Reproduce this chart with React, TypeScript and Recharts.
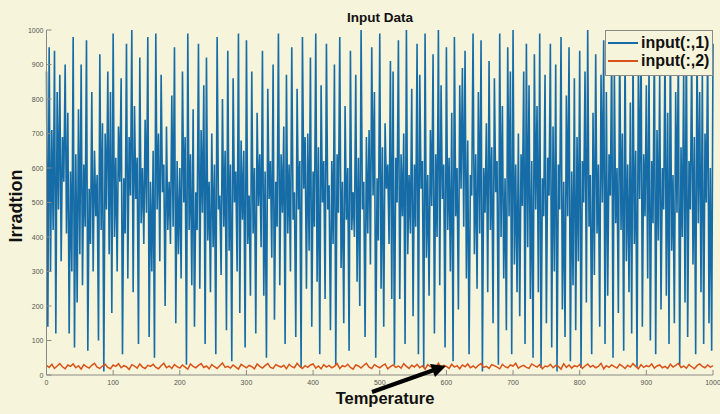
import { LineChart, Line, XAxis, YAxis, Legend } from 'recharts'

// input(:,1) is read at every 2nd sample, input(:,2) at every 4th
const idxIrr: number[] = Array.from({ length: 501 }, (_, i) => i * 2)
const idxTemp: number[] = Array.from({ length: 251 }, (_, i) => i * 4)

// input(:,1) - irradiance
const irradiance: number[] = [
  880, 140, 950, 300, 710, 420, 940, 120, 820, 480, 870, 330, 690, 560, 900, 410, 760, 120, 590, 300,
  980, 80, 640, 210, 770, 350, 900, 260, 610, 430, 970, 70, 540, 380, 820, 300, 650, 460, 580, 100,
  930, 420, 730, 10, 700, 480, 880, 350, 820, 180, 990, 400, 630, 300, 720, 560, 860, 60, 570, 410,
  960, 280, 690, 520, 1000, 240, 780, 510, 630, 90, 920, 440, 600, 380, 740, 470, 980, 110, 560, 300,
  650, 50, 990, 480, 700, 330, 870, 530, 610, 200, 720, 420, 560, 380, 810, 430, 950, 150, 620, 350,
  600, 280, 880, 500, 690, 30, 990, 420, 640, 260, 770, 140, 530, 420, 960, 250, 710, 470, 840, 90,
  920, 390, 560, 240, 700, 370, 610, 60, 980, 480, 520, 290, 800, 430, 650, 130, 940, 360, 610, 40,
  860, 500, 590, 300, 990, 180, 680, 450, 650, 80, 970, 380, 520, 230, 880, 410, 600, 120, 760, 490,
  640, 370, 940, 230, 590, 50, 830, 510, 620, 340, 900, 160, 560, 430, 990, 260, 640, 470, 720, 90,
  870, 410, 610, 300, 950, 450, 530, 110, 830, 480, 620, 20, 980, 540, 690, 250, 700, 360, 920, 140,
  590, 430, 990, 270, 660, 60, 840, 500, 620, 220, 960, 480, 550, 130, 620, 380, 900, 30, 640, 470,
  980, 310, 560, 150, 780, 450, 600, 70, 940, 420, 530, 400, 870, 270, 630, 200, 1000, 480, 560, 110,
  690, 410, 710, 320, 950, 520, 820, 50, 570, 390, 990, 250, 660, 140, 730, 540, 610, 380, 910, 220,
  880, 30, 630, 500, 970, 220, 640, 460, 700, 90, 1000, 350, 580, 410, 830, 170, 610, 430, 960, 60,
  870, 540, 620, 20, 990, 340, 580, 230, 710, 490, 930, 120, 640, 400, 1000, 260, 840, 510, 610, 80,
  950, 420, 630, 300, 760, 40, 980, 460, 600, 190, 840, 540, 890, 430, 940, 280, 680, 60, 580, 520,
  990, 350, 640, 250, 820, 410, 970, 10, 600, 470, 730, 240, 910, 420, 660, 150, 860, 530, 620, 30,
  990, 400, 780, 280, 570, 130, 950, 460, 880, 60, 1000, 320, 610, 240, 700, 170, 640, 490, 880, 90,
  960, 370, 840, 220, 620, 50, 930, 480, 780, 240, 990, 20, 570, 460, 870, 150, 630, 520, 960, 80,
  720, 300, 900, 10, 610, 480, 980, 190, 560, 110, 810, 460, 950, 40, 590, 260, 860, 130, 690, 330,
  940, 20, 620, 500, 880, 210, 1000, 430, 580, 60, 760, 290, 930, 410, 610, 140, 870, 500, 970, 90,
  820, 230, 640, 520, 950, 50, 880, 440, 600, 180, 990, 420, 700, 70, 960, 330, 610, 240, 790, 120,
  930, 380, 650, 20, 880, 510, 1000, 140, 640, 460, 840, 280, 900, 100, 620, 440, 980, 60, 710, 390,
  870, 190, 600, 480, 950, 230, 760, 90, 990, 360, 580, 150, 820, 470, 940, 30, 660, 400, 880, 210,
  1000, 110, 620, 480, 930, 320, 690, 60, 960, 440, 820, 240, 880, 90, 700, 500, 950, 150, 600, 70,
  960,
]

// input(:,2) - temperature
const temperature: number[] = [
  28, 22, 31, 19, 26, 33, 24, 18, 29, 25,
  32, 21, 27, 17, 30, 24, 20, 28, 34, 23,
  19, 26, 31, 22, 18, 29, 25, 33, 21, 27,
  24, 16, 30, 26, 20, 32, 23, 19, 28, 25,
  31, 22, 18, 27, 34, 21, 26, 19, 30, 24,
  20, 29, 23, 17, 32, 25, 21, 28, 33, 22,
  26, 18, 30, 24, 19, 27, 35, 22, 25, 20,
  29, 23, 17, 31, 26, 21, 28, 24, 18, 32,
  25, 20, 27, 33, 22, 19, 30, 26, 23, 28,
  18, 31, 24, 21, 34, 25, 19, 27, 22, 29,
  32, 20, 26, 18, 30, 23, 28, 21, 25, 33,
  19, 27, 24, 31, 22, 17, 29, 26, 20, 28,
  34, 23, 19, 30, 25, 21, 27, 32, 18, 24,
  29, 22, 26, 20, 33, 25, 19, 28, 23, 31,
  21, 27, 17, 30, 24, 26, 20, 34, 22, 28,
  25, 19, 31, 23, 27, 18, 29, 24, 32, 21,
  26, 20, 28, 33, 22, 25, 19, 30, 27, 23,
  18, 31, 24, 21, 29, 26, 34, 20, 25, 28,
  22, 19, 32, 27, 23, 30, 18, 26, 24, 31,
  21, 28, 25, 17, 33, 22, 29, 20, 27, 24,
  30, 19, 26, 32, 23, 28, 21, 25, 34, 18,
  27, 22, 29, 24, 20, 31, 26, 19, 28, 23,
  33, 25, 18, 30, 22, 27, 24, 32, 20, 26,
  29, 21, 25, 19, 31, 23, 28, 34, 22, 26,
  20, 30, 24, 18, 27, 32, 25, 21, 29, 23,
  27,
]

const xTicks: number[] = [0, 100, 200, 300, 400, 500, 600, 700, 800, 900, 1000]
const yTicks: number[] = [0, 100, 200, 300, 400, 500, 600, 700, 800, 900, 1000]

const seriesNames = ['input(:,1)', 'input(:,2)']

const irrData = idxIrr.map((x, i) => ({ x, v: irradiance[i] }))
const tempData = idxTemp.map((x, i) => ({ x, v: temperature[i] }))

const BG = '#f6f4da'
const AXIS = '#8a8a86'
const BLUE = '#156ca6'
const ORANGE = '#d95319'
const FONT = '"Liberation Sans", Arial, sans-serif'

const BottomTick = ({ x, y, payload }: any) => (
  <g>
    <line x1={x} x2={x} y1={y - 3} y2={y - 8} stroke={AXIS} />
    <text x={x} y={y + 7} textAnchor="middle" fontSize={7} fill="#555" fontFamily={FONT}>
      {payload.value}
    </text>
  </g>
)

const TopTick = ({ x, y }: any) => <line x1={x} x2={x} y1={y} y2={y + 5} stroke={AXIS} />

const LeftTick = ({ x, y, payload }: any) => (
  <g>
    <line x1={x + 3} x2={x + 8} y1={y} y2={y} stroke={AXIS} />
    <text x={x} y={y + 2.5} textAnchor="end" fontSize={7} fill="#555" fontFamily={FONT}>
      {payload.value}
    </text>
  </g>
)

const RightTick = ({ x, y }: any) => <line x1={x} x2={x - 5} y1={y} y2={y} stroke={AXIS} />

const LegendBox = () => (
  <div
    style={{
      width: 108,
      height: 46,
      border: `1px solid ${AXIS}`,
      background: BG,
      boxSizing: 'border-box',
      fontFamily: FONT,
      fontWeight: 'bold',
      fontSize: 16,
      color: '#111',
      padding: '3px 0 0 2px',
    }}
  >
    {seriesNames.map((name, i) => (
      <div key={name} style={{ display: 'flex', alignItems: 'center', height: 18 }}>
        <span
          style={{
            display: 'inline-block',
            width: 30,
            height: i === 0 ? 2 : 1.5,
            background: i === 0 ? BLUE : ORANGE,
            marginRight: 3,
          }}
        />
        {name}
      </div>
    ))}
  </div>
)

export default function App() {
  return (
    <div style={{ position: 'absolute', left: 0, top: 0, width: 720, height: 414, background: BG }}>
      <LineChart width={720} height={414} margin={{ top: 30, right: 7, bottom: 25, left: 0 }}>
        <XAxis
          dataKey="x"
          type="number"
          domain={[0, 1000]}
          ticks={xTicks}
          interval={0}
          height={14}
          tickSize={0}
          tickMargin={3}
          stroke={AXIS}
          tick={<BottomTick />}
          allowDuplicatedCategory={false}
        />
        <XAxis
          xAxisId="top"
          orientation="top"
          dataKey="x"
          type="number"
          domain={[0, 1000]}
          ticks={xTicks}
          interval={0}
          height={0}
          tickSize={0}
          tickMargin={0}
          stroke={AXIS}
          tick={<TopTick />}
        />
        <YAxis
          type="number"
          domain={[0, 1000]}
          ticks={yTicks}
          interval={0}
          width={46.5}
          tickSize={0}
          tickMargin={3}
          stroke={AXIS}
          tick={<LeftTick />}
        />
        <YAxis
          yAxisId="right"
          orientation="right"
          type="number"
          domain={[0, 1000]}
          ticks={yTicks}
          interval={0}
          width={0}
          tickSize={0}
          tickMargin={0}
          stroke={AXIS}
          tick={<RightTick />}
        />
        <Legend
          verticalAlign="middle"
          layout="horizontal"
          content={<LegendBox />}
          wrapperStyle={{ position: 'absolute', top: 30, left: 605, width: 108 }}
        />
        <Line
          data={irrData}
          dataKey="v"
          name={seriesNames[0]}
          stroke={BLUE}
          strokeWidth={1.6}
          strokeLinejoin="miter"
          dot={false}
          isAnimationActive={false}
        />
        <Line
          data={tempData}
          dataKey="v"
          name={seriesNames[1]}
          stroke={ORANGE}
          strokeWidth={1.5}
          dot={false}
          isAnimationActive={false}
        />
      </LineChart>
      <svg width={720} height={414} style={{ position: 'absolute', left: 0, top: 0, pointerEvents: 'none' }}>
        <text x={380} y={22} textAnchor="middle" fontFamily={FONT} fontWeight="bold" fontSize={13.5} fill="#111">
          Input Data
        </text>
        <text
          x={0}
          y={0}
          transform="translate(22,206) rotate(-90)"
          textAnchor="middle"
          fontFamily={FONT}
          fontWeight="bold"
          fontSize={18}
          fill="#111"
        >
          Irradtion
        </text>
        <text x={385} y={404} textAnchor="middle" fontFamily={FONT} fontWeight="bold" fontSize={16.5} fill="#111">
          Temperature
        </text>
        <line x1={372} y1={392} x2={434} y2={370} stroke="#000" strokeWidth={4} />
        <polygon points="446,366 435,377 430,364" fill="#000" />
      </svg>
    </div>
  )
}
